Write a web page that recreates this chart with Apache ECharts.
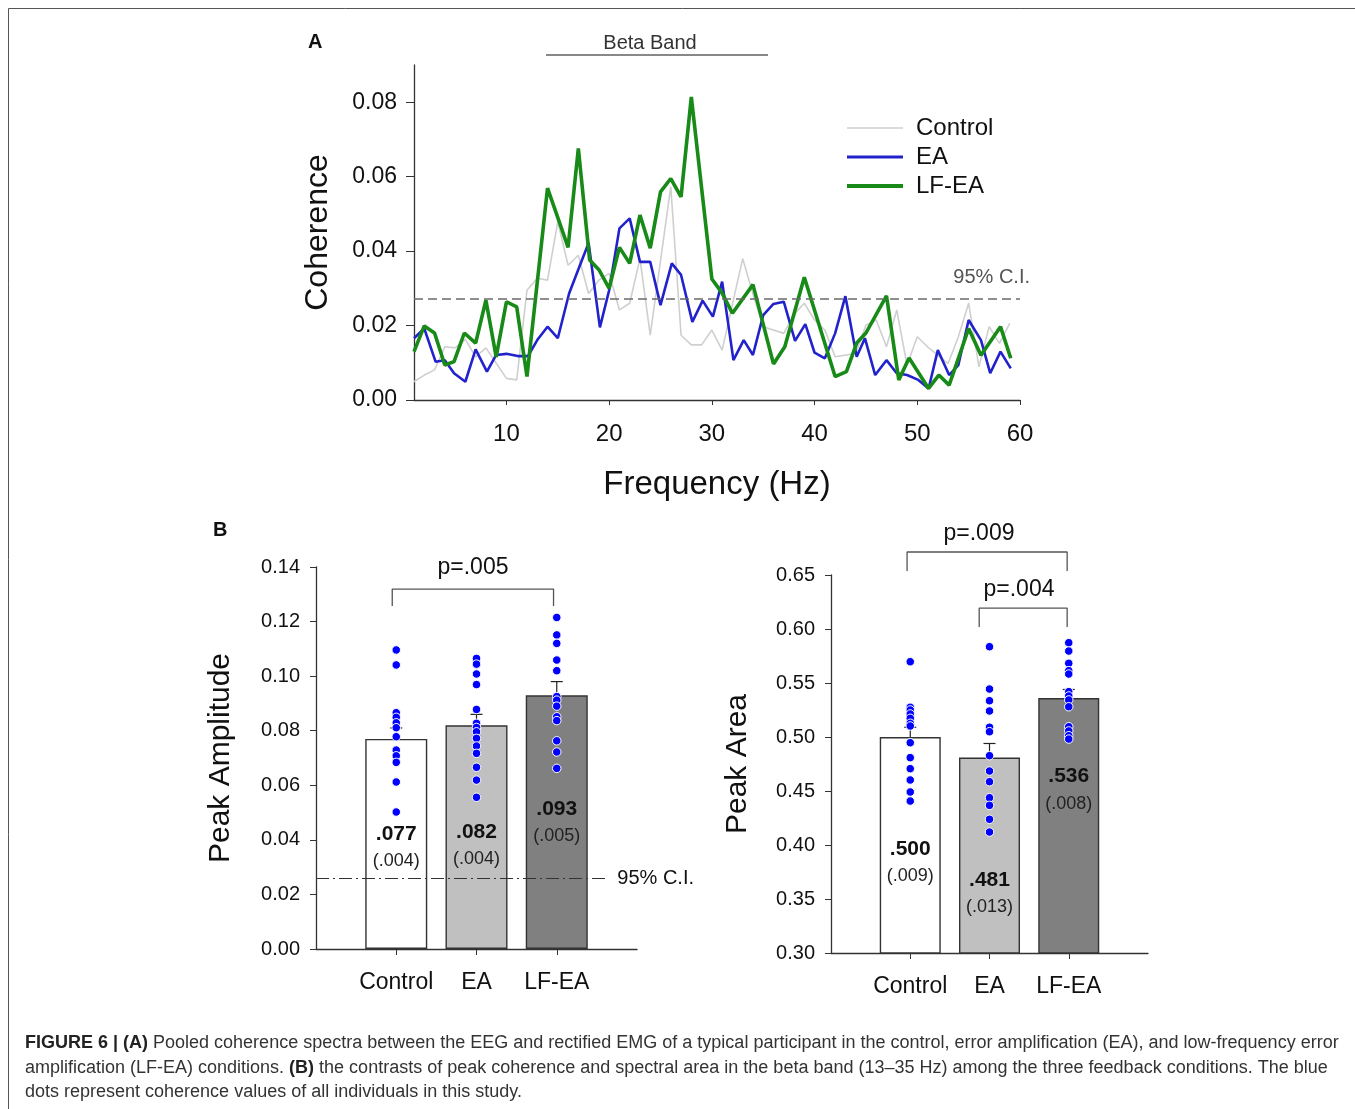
<!DOCTYPE html>
<html>
<head>
<meta charset="utf-8">
<script src="https://cdn.jsdelivr.net/npm/echarts@6/dist/echarts.min.js"></script>
<style>
html, body { margin: 0; padding: 0; background: #fff; }
#chart { width: 1355px; height: 1109px; }
</style>
</head>
<body>
<div id="chart"></div>
<script>
// Panel A - coherence spectra (frequency in Hz, coherence)
const controlFreq = [1, 2, 3, 4, 5, 6, 7, 8, 10, 11, 12, 13, 14, 15, 16, 17, 18, 19, 20, 21, 22, 23, 24, 26, 27, 28, 29, 30, 31, 33, 34, 35, 37, 38, 39, 40, 41, 42, 44, 45, 46, 47, 48, 49, 50, 51, 53, 54, 55, 56, 57, 58, 59];
const controlCoh = [0.0049, 0.0067, 0.0081, 0.0143, 0.014, 0.0163, 0.0116, 0.014, 0.0058, 0.0054, 0.0295, 0.0327, 0.0322, 0.0479, 0.0362, 0.0389, 0.0286, 0.0322, 0.034, 0.0242, 0.026, 0.038, 0.0174, 0.0573, 0.0174, 0.0148, 0.0148, 0.0188, 0.0134, 0.038, 0.0285, 0.0197, 0.0179, 0.023, 0.026, 0.0215, 0.0188, 0.0116, 0.0125, 0.0201, 0.0215, 0.0143, 0.0242, 0.0094, 0.017, 0.0143, 0.0098, 0.017, 0.026, 0.0089, 0.0197, 0.0152, 0.0206];

const eaFreq = [1, 2, 3.1, 4, 4.9, 6, 7, 8.1, 9, 10, 11.1, 12.1, 13, 14, 15, 16.1, 17.1, 18, 19.1, 20, 21, 22, 23, 24, 25, 26.1, 27, 28.1, 29.1, 30.1, 31, 32.1, 33.1, 34, 35, 36, 37, 38.1, 39.1, 40, 41, 42, 43, 44.1, 44.9, 45.9, 47, 48, 49, 50.1, 51.1, 52, 53.1, 54, 55, 56.2, 57.1, 58.1, 59.1];
const eaCoh = [0.0166, 0.0192, 0.0103, 0.0107, 0.0072, 0.0049, 0.0136, 0.0076, 0.0121, 0.0124, 0.0118, 0.0118, 0.0161, 0.0197, 0.0166, 0.0286, 0.0358, 0.0422, 0.0195, 0.0295, 0.0461, 0.0488, 0.0371, 0.0371, 0.0255, 0.0367, 0.0336, 0.021, 0.0267, 0.0224, 0.0318, 0.0107, 0.0161, 0.0121, 0.0228, 0.0258, 0.0264, 0.0159, 0.0204, 0.0127, 0.0112, 0.0179, 0.0279, 0.0116, 0.0166, 0.0067, 0.0107, 0.0072, 0.0067, 0.0054, 0.0031, 0.0134, 0.0067, 0.0094, 0.0215, 0.0161, 0.0072, 0.013, 0.0085];

const lfeaFreq = [1, 2, 3, 4, 4.9, 5.9, 7, 8, 9, 10, 11, 12, 14, 15, 16, 17, 18.1, 19, 20, 21, 22, 23, 24, 25, 26, 27, 28, 30, 31, 32, 34, 36, 37.1, 39, 42, 43.1, 44.1, 45, 47, 48.2, 49.2, 51.1, 52.1, 53.1, 55, 56.2, 58.1, 59.1];
const lfeaCoh = [0.013, 0.0199, 0.018, 0.0094, 0.0103, 0.018, 0.0153, 0.0268, 0.0116, 0.0264, 0.025, 0.0063, 0.0569, 0.049, 0.041, 0.0676, 0.0376, 0.035, 0.030, 0.041, 0.0367, 0.0497, 0.0408, 0.0559, 0.0595, 0.0546, 0.0814, 0.0325, 0.0287, 0.0233, 0.031, 0.0097, 0.0143, 0.033, 0.0063, 0.0076, 0.0153, 0.018, 0.028, 0.0054, 0.0113, 0.0031, 0.0067, 0.004, 0.0192, 0.012, 0.0197, 0.0112];

const coherenceCI = 0.0271;
const freqTicks = [10, 20, 30, 40, 50, 60];
const coherenceTicks = [0, 0.02, 0.04, 0.06, 0.08];

// Panel B - peak amplitude / peak area per condition
const conditions = ['Control', 'EA', 'LF-EA'];
const amplitudeMean = [0.077, 0.082, 0.093];
const amplitudeSE = [0.004, 0.004, 0.005];
const amplitudeDots = [
    [0.1096, 0.1041, 0.0866, 0.0849, 0.0829, 0.0811, 0.0778, 0.0729, 0.0708, 0.0684, 0.0612, 0.0502],
    [0.1065, 0.1044, 0.1008, 0.0969, 0.0878, 0.0827, 0.0812, 0.0796, 0.0772, 0.0744, 0.0717, 0.0666, 0.0619, 0.0556],
    [0.1215, 0.1151, 0.112, 0.1059, 0.102, 0.0925, 0.0912, 0.089, 0.0851, 0.0837, 0.0763, 0.0722, 0.0662]
];
const amplitudeCI = 0.026;

const areaMean = [0.500, 0.481, 0.536];
const areaSE = [0.009, 0.013, 0.008];
const areaDots = [
    [0.5697, 0.5275, 0.525, 0.5213, 0.5173, 0.5127, 0.5102, 0.4947, 0.4809, 0.4707, 0.4602, 0.4491, 0.4407],
    [0.5836, 0.5444, 0.5336, 0.5241, 0.509, 0.5049, 0.4827, 0.4685, 0.4586, 0.4438, 0.4367, 0.4238, 0.412],
    [0.5873, 0.5796, 0.5682, 0.5614, 0.5583, 0.542, 0.538, 0.5343, 0.528, 0.5095, 0.5056, 0.5012, 0.4981]
];

const FONT = 'Liberation Sans, Arial, sans-serif';
const BAR_COLORS = ['#ffffff', '#c0c0c0', '#808080'];
const AMP_LABEL_DROP = [82, 93, 100];
const AREA_LABEL_DROP = [99, 109, 65];

const chart = echarts.init(document.getElementById('chart'));

function pairs(xs, ys) {
    return xs.map((x, i) => [x, ys[i]]);
}

function shortNum(v) {
    return v.toFixed(3).replace(/^0/, '');
}

function barData(means, ses, drops) {
    return means.map((m, i) => ({
        value: [i + 1, m, ses[i]],
        itemStyle: { color: BAR_COLORS[i] },
        label: { distance: drops[i] }
    }));
}

function errorData(means, ses) {
    return means.map((m, i) => [i + 1, m, ses[i]]);
}

function dotData(groups) {
    const out = [];
    groups.forEach((g, i) => g.forEach(v => out.push([i + 1, v])));
    return out;
}

function renderError(params, api) {
    const x = api.value(0);
    const m = api.value(1);
    const s = api.value(2);
    const base = api.coord([x, m]);
    const top = api.coord([x, m + s]);
    const st = { stroke: '#222', lineWidth: 1.2 };
    return {
        type: 'group',
        children: [
            { type: 'line', shape: { x1: base[0], y1: base[1], x2: top[0], y2: top[1] }, style: st },
            { type: 'line', shape: { x1: top[0] - 6, y1: top[1], x2: top[0] + 6, y2: top[1] }, style: st }
        ]
    };
}

function bracket(x1, x2, yTop, yLeg, xi) {
    return {
        type: 'line',
        xAxisIndex: xi,
        yAxisIndex: xi,
        data: [[x1, yLeg], [x1, yTop], [x2, yTop], [x2, yLeg]],
        symbol: 'none',
        clip: false,
        silent: true,
        z: 4,
        lineStyle: { color: '#555', width: 1.3 }
    };
}

const barLabel = {
    show: true,
    position: 'insideTop',
    formatter: p => '{m|' + shortNum(p.value[1]) + '}\n{s|(' + shortNum(p.value[2]) + ')}',
    rich: {
        m: { fontSize: 21, fontWeight: 'bold', color: '#111', lineHeight: 27, fontFamily: FONT },
        s: { fontSize: 18, color: '#222', lineHeight: 27, fontFamily: FONT }
    }
};

const bAxisX = (gi) => ({
    type: 'value',
    gridIndex: gi,
    min: 0,
    max: 4,
    axisLine: { lineStyle: { color: '#333', width: 1.3 } },
    axisTick: { show: true, length: 6, customValues: [1, 2, 3], lineStyle: { color: '#333' } },
    axisLabel: {
        customValues: [1, 2, 3],
        formatter: v => conditions[v - 1],
        fontSize: 23,
        color: '#111',
        margin: 22
    },
    splitLine: { show: false }
});

const option = {
    animation: false,
    backgroundColor: '#fff',
    textStyle: { fontFamily: FONT },
    grid: [
        { left: 414, top: 65, width: 606, height: 335 },
        { left: 316, top: 567, width: 321, height: 382 },
        { left: 831, top: 575, width: 317, height: 378 }
    ],
    legend: {
        data: [
            { name: 'Control', lineStyle: { width: 1.6 } },
            { name: 'EA', lineStyle: { width: 3 } },
            { name: 'LF-EA', lineStyle: { width: 4 } }
        ],
        orient: 'vertical',
        left: 840,
        top: 111,
        itemWidth: 56,
        itemHeight: 14,
        itemGap: 5,
        itemStyle: { opacity: 0 },
        textStyle: { fontSize: 24, color: '#111', lineHeight: 24, padding: [0, 0, 0, 8] }
    },
    xAxis: [
        {
            type: 'value',
            gridIndex: 0,
            min: 1,
            max: 60,
            axisLine: { lineStyle: { color: '#333', width: 1.3 } },
            axisTick: { show: true, length: 5, customValues: freqTicks, lineStyle: { color: '#333' } },
            axisLabel: { customValues: freqTicks, fontSize: 24, color: '#111', margin: 22 },
            splitLine: { show: false },
            name: 'Frequency (Hz)',
            nameLocation: 'middle',
            nameGap: 68,
            nameTextStyle: { fontSize: 33, color: '#111' }
        },
        bAxisX(1),
        bAxisX(2)
    ],
    yAxis: [
        {
            type: 'value',
            gridIndex: 0,
            min: 0,
            max: 0.09,
            axisLine: { show: true, lineStyle: { color: '#333', width: 1.3 } },
            axisTick: { show: true, length: 8, customValues: coherenceTicks, lineStyle: { color: '#333' } },
            axisLabel: { customValues: coherenceTicks, formatter: v => v.toFixed(2), fontSize: 23, color: '#111', margin: 17 },
            splitLine: { show: false },
            name: 'Coherence',
            nameLocation: 'middle',
            nameRotate: 90,
            nameGap: 80,
            nameTextStyle: { fontSize: 32, color: '#111' }
        },
        {
            type: 'value',
            gridIndex: 1,
            min: 0,
            max: 0.14,
            interval: 0.02,
            axisLine: { show: true, lineStyle: { color: '#333', width: 1.3 } },
            axisTick: { show: true, length: 6, lineStyle: { color: '#333' } },
            axisLabel: { formatter: v => v.toFixed(2), fontSize: 20, color: '#111', margin: 16 },
            splitLine: { show: false },
            name: 'Peak Amplitude',
            nameLocation: 'middle',
            nameRotate: 90,
            nameGap: 80,
            nameTextStyle: { fontSize: 30, color: '#111' }
        },
        {
            type: 'value',
            gridIndex: 2,
            min: 0.30,
            max: 0.65,
            interval: 0.05,
            axisLine: { show: true, lineStyle: { color: '#333', width: 1.3 } },
            axisTick: { show: true, length: 6, lineStyle: { color: '#333' } },
            axisLabel: { formatter: v => v.toFixed(2), fontSize: 20, color: '#111', margin: 16 },
            splitLine: { show: false },
            name: 'Peak Area',
            nameLocation: 'middle',
            nameRotate: 90,
            nameGap: 78,
            nameTextStyle: { fontSize: 30, color: '#111' }
        }
    ],
    series: [
        {
            name: 'Control',
            type: 'line',
            xAxisIndex: 0,
            yAxisIndex: 0,
            data: pairs(controlFreq, controlCoh),
            symbol: 'none',
            color: '#cfcfcf',
            lineStyle: { color: '#cfcfcf', width: 1.6 },
            markLine: {
                silent: true,
                precision: 4,
                symbol: ['none', 'none'],
                lineStyle: { type: [9, 5], color: '#6a6a6a', width: 1.6 },
                label: {
                    show: true,
                    position: 'insideEndTop',
                    formatter: '95% C.I.',
                    fontSize: 20,
                    color: '#555',
                    distance: [-10, 12]
                },
                data: [{ yAxis: coherenceCI }]
            }
        },
        {
            name: 'EA',
            type: 'line',
            xAxisIndex: 0,
            yAxisIndex: 0,
            data: pairs(eaFreq, eaCoh),
            symbol: 'none',
            color: '#2222cc',
            lineStyle: { color: '#2222cc', width: 2.6 }
        },
        {
            name: 'LF-EA',
            type: 'line',
            xAxisIndex: 0,
            yAxisIndex: 0,
            data: pairs(lfeaFreq, lfeaCoh),
            symbol: 'none',
            color: '#178a17',
            lineStyle: { color: '#178a17', width: 3.6 }
        },
        // B left
        {
            type: 'bar',
            xAxisIndex: 1,
            yAxisIndex: 1,
            barWidth: 62,
            data: barData(amplitudeMean, amplitudeSE, AMP_LABEL_DROP),
            encode: { x: 0, y: 1 },
            itemStyle: { borderColor: '#333', borderWidth: 1.4 },
            label: barLabel
        },
        {
            type: 'custom',
            xAxisIndex: 1,
            yAxisIndex: 1,
            renderItem: renderError,
            data: errorData(amplitudeMean, amplitudeSE),
            encode: { x: 0, y: 1 },
            z: 3
        },
        {
            type: 'scatter',
            xAxisIndex: 1,
            yAxisIndex: 1,
            data: dotData(amplitudeDots),
            symbolSize: 8.5,
            itemStyle: { color: '#0000ff', borderColor: '#fff', borderWidth: 1, opacity: 1 },
            z: 5
        },
        Object.assign(bracket(0.95, 2.96, 0.1319, 0.1257, 1), {
            markLine: {
                silent: true,
                precision: 4,
                symbol: ['none', 'none'],
                lineStyle: { type: [13, 4, 2, 4], color: '#333', width: 1 },
                label: { show: true, position: 'end', formatter: '95% C.I.', fontSize: 20, color: '#111', distance: 10 },
                data: [[{ coord: [0, amplitudeCI] }, { coord: [3.63, amplitudeCI] }]]
            }
        }),
        // B right
        {
            type: 'bar',
            xAxisIndex: 2,
            yAxisIndex: 2,
            barWidth: 61,
            data: barData(areaMean, areaSE, AREA_LABEL_DROP),
            encode: { x: 0, y: 1 },
            itemStyle: { borderColor: '#333', borderWidth: 1.4 },
            label: barLabel
        },
        {
            type: 'custom',
            xAxisIndex: 2,
            yAxisIndex: 2,
            renderItem: renderError,
            data: errorData(areaMean, areaSE),
            encode: { x: 0, y: 1 },
            z: 3
        },
        {
            type: 'scatter',
            xAxisIndex: 2,
            yAxisIndex: 2,
            data: dotData(areaDots),
            symbolSize: 8.5,
            itemStyle: { color: '#0000ff', borderColor: '#fff', borderWidth: 1, opacity: 1 },
            z: 5
        },
        bracket(0.96, 2.98, 0.6713, 0.6537, 2),
        bracket(1.87, 2.98, 0.6194, 0.6019, 2)
    ],
    graphic: [
        { type: 'rect', shape: { x: 8.5, y: 8.5, width: 1400, height: 1200 }, style: { fill: 'none', stroke: '#555', lineWidth: 1 }, silent: true },
        { type: 'text', x: 308, y: 42, style: { text: 'A', font: 'bold 20px ' + FONT, fill: '#111', verticalAlign: 'middle' } },
        { type: 'text', x: 213, y: 530, style: { text: 'B', font: 'bold 20px ' + FONT, fill: '#111', verticalAlign: 'middle' } },
        { type: 'line', shape: { x1: 546, y1: 55, x2: 768, y2: 55 }, style: { stroke: '#888', lineWidth: 2 } },
        { type: 'text', x: 650, y: 43, style: { text: 'Beta Band', font: '20px ' + FONT, fill: '#333', align: 'center', verticalAlign: 'middle' } },
        { type: 'text', x: 473, y: 568, style: { text: 'p=.005', font: '23px ' + FONT, fill: '#111', align: 'center', verticalAlign: 'middle' } },
        { type: 'text', x: 979, y: 534, style: { text: 'p=.009', font: '23px ' + FONT, fill: '#111', align: 'center', verticalAlign: 'middle' } },
        { type: 'text', x: 1019, y: 590, style: { text: 'p=.004', font: '23px ' + FONT, fill: '#111', align: 'center', verticalAlign: 'middle' } },
        {
            type: 'text', x: 25, y: 1043,
            style: {
                text: '{b|FIGURE 6 | (A)} Pooled coherence spectra between the EEG and rectified EMG of a typical participant in the control, error amplification (EA), and low-frequency error',
                font: '18px ' + FONT, fill: '#333', verticalAlign: 'middle',
                rich: { b: { fontWeight: 'bold', fontSize: 18, fill: '#222', fontFamily: FONT } }
            }
        },
        {
            type: 'text', x: 25, y: 1068,
            style: {
                text: 'amplification (LF-EA) conditions. {b|(B)} the contrasts of peak coherence and spectral area in the beta band (13–35 Hz) among the three feedback conditions. The blue',
                font: '18px ' + FONT, fill: '#333', verticalAlign: 'middle',
                rich: { b: { fontWeight: 'bold', fontSize: 18, fill: '#222', fontFamily: FONT } }
            }
        },
        {
            type: 'text', x: 25, y: 1092,
            style: {
                text: 'dots represent coherence values of all individuals in this study.',
                font: '18px ' + FONT, fill: '#333', verticalAlign: 'middle'
            }
        }
    ]
};

chart.setOption(option);

window.addEventListener('resize', function() {
    chart.resize();
});
</script>
</body>
</html>
